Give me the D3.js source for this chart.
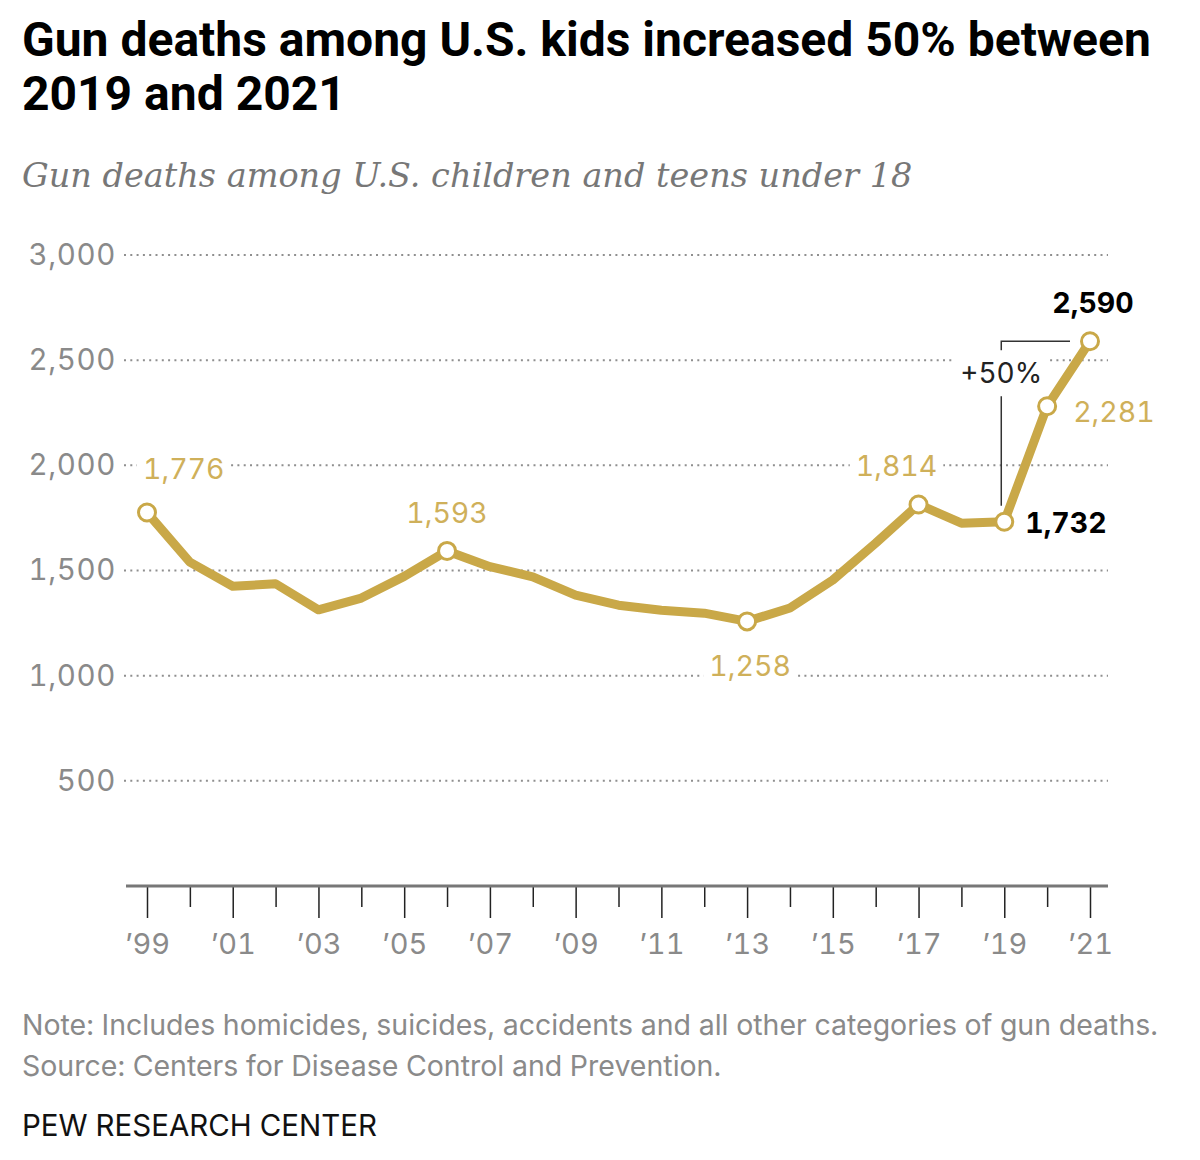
<!DOCTYPE html>
<html>
<head>
<meta charset="utf-8">
<script src="https://cdn.jsdelivr.net/npm/d3@7"></script>
<style>
  body { margin: 0; background: #fff; }
  svg { display: block; }
  text { font-family: Inter, "Liberation Sans", sans-serif; font-variant-numeric: tabular-nums; }
</style>
</head>
<body>
<div id="chart"></div>
<script>
// data
const years = d3.range(1999, 2022);
const deaths = [1776, 1540, 1425, 1437, 1313, 1369, 1472, 1593, 1518, 1470, 1383,
    1335, 1311, 1297, 1258, 1322, 1455, 1630, 1814, 1725, 1732, 2281, 2590];
const yTicks = [500, 1000, 1500, 2000, 2500, 3000];
const xTickLabels = ['’99', '’01', '’03', '’05', '’07', '’09', '’11', '’13', '’15', '’17', '’19', '’21'];
const labelledYears = [1999, 2006, 2013, 2017, 2019, 2020, 2021];
const boldYears = [2019, 2021];

const title = ['Gun deaths among U.S. kids increased 50% between', '2019 and 2021'];
const subtitle = 'Gun deaths among U.S. children and teens under 18';
const notes = ['Note: Includes homicides, suicides, accidents and all other categories of gun deaths.',
    'Source: Centers for Disease Control and Prevention.'];
const credit = 'PEW RESEARCH CENTER';

const gold = '#c9a848';
const goldText = '#cfb05a';

const dimensions = { width: 1200, height: 1160 };

const svg = d3.select('#chart')
    .append('svg')
    .attr('width', dimensions.width)
    .attr('height', dimensions.height);

// header
svg.selectAll('.title')
    .data(title)
    .enter()
    .append('text')
        .attr('class', 'title')
        .attr('x', 22)
        .attr('y', (d, i) => 56 + i * 54)
        .style('font-family', 'Roboto, sans-serif')
        .style('font-size', '48px')
        .style('font-weight', 700)
        .style('fill', '#000')
        .text(d => d);

svg.append('text')
    .attr('x', 22)
    .attr('y', 187)
    .style('font-family', '"DejaVu Serif", serif')
    .style('font-style', 'italic')
    .style('font-size', '33.5px')
    .style('fill', '#777')
    .text(subtitle);

// scales
const x = d3.scaleLinear().domain([1999, 2021]).range([147, 1090]);
const y = d3.scaleLinear().domain([0, 3000]).range([886, 255]);

const gridLayer = svg.append('g');
const bgLayer = svg.append('g');
const lineLayer = svg.append('g');
const textLayer = svg.append('g');

// y axis labels + dotted gridlines
const yAxis = d3.axisLeft(y).tickValues(yTicks).tickSize(0).tickPadding(0).tickFormat(d3.format(','));
const yAxisGroup = gridLayer.append('g')
    .attr('transform', 'translate(116, 0)')
    .call(yAxis);
yAxisGroup.select('.domain').remove();
yAxisGroup.selectAll('text')
    .style('font-family', 'Inter, sans-serif')
    .style('font-size', '29.5px')
    .style('letter-spacing', '0.6px')
    .style('fill', '#8a8a8a');

gridLayer.selectAll('.grid')
    .data(yTicks)
    .enter()
    .append('line')
        .attr('class', 'grid')
        .attr('x1', 124)
        .attr('x2', 1108)
        .attr('y1', d => y(d))
        .attr('y2', d => y(d))
        .style('stroke', '#8f8f8f')
        .style('stroke-width', 2)
        .style('stroke-dasharray', '2 4.3');

// x axis
const xAxis = d3.axisBottom(x)
    .tickValues(years)
    .tickSizeOuter(0)
    .tickSize(32)
    .tickPadding(15)
    .tickFormat(d => (d - 1999) % 2 === 0 ? xTickLabels[(d - 1999) / 2] : '');
const xAxisGroup = gridLayer.append('g')
    .attr('transform', `translate(0, ${y(0)})`)
    .call(xAxis);
xAxisGroup.select('.domain').remove();
xAxisGroup.selectAll('.tick line')
    .attr('y2', d => (d - 1999) % 2 === 0 ? 32 : 21)
    .style('stroke', '#222')
    .style('stroke-width', 1.5);
xAxisGroup.selectAll('.tick text')
    .style('font-family', 'Inter, sans-serif')
    .style('font-size', '29px')
    .style('fill', '#8a8a8a');
gridLayer.append('line')
    .attr('x1', 126)
    .attr('x2', 1108)
    .attr('y1', y(0))
    .attr('y2', y(0))
    .style('stroke', '#777')
    .style('stroke-width', 3);

// +50% bracket
const x19 = x(2019) - 3;
gridLayer.append('path')
    .attr('d', `M${x(2021) - 20},${y(2590)} H${x19} V${y(1732) - 16}`)
    .style('fill', 'none')
    .style('stroke', '#333')
    .style('stroke-width', 1.5);

// line
const line = d3.line()
    .x((d, i) => x(years[i]))
    .y(d => y(d));

lineLayer.append('path')
    .datum(deaths)
    .attr('d', line)
    .style('fill', 'none')
    .style('stroke', gold)
    .style('stroke-width', 9)
    .style('stroke-linejoin', 'round');

lineLayer.selectAll('circle')
    .data(labelledYears)
    .enter()
    .append('circle')
        .attr('cx', d => x(d))
        .attr('cy', d => y(deaths[d - 1999]))
        .attr('r', 8.5)
        .style('fill', '#fff')
        .style('stroke', gold)
        .style('stroke-width', 3);

// point labels (placement per year)
const placement = {
    1999: { dx: -4, dy: -33, anchor: 'start' },
    2006: { dx: 0, dy: -28, anchor: 'middle' },
    2013: { dx: 3, dy: 55, anchor: 'middle' },
    2017: { dx: -22, dy: -28, anchor: 'middle' },
    2019: { dx: 21, dy: 11, anchor: 'start' },
    2020: { dx: 26, dy: 16, anchor: 'start' },
    2021: { dx: 3, dy: -28, anchor: 'middle' }
};

const addBackground = (node, padX, padY) => {
    const b = node.getBBox();
    bgLayer.append('rect')
        .attr('x', b.x - padX)
        .attr('y', b.y - padY)
        .attr('width', b.width + padX * 2)
        .attr('height', b.height + padY * 2)
        .style('fill', '#fff');
};

labelledYears.forEach(year => {
    const p = placement[year];
    const bold = boldYears.includes(year);
    const t = textLayer.append('text')
        .attr('x', x(year) + p.dx)
        .attr('y', y(deaths[year - 1999]) + p.dy)
        .attr('text-anchor', p.anchor)
        .style('font-size', '28.5px')
        .style('font-weight', bold ? 700 : 400)
        .style('fill', bold ? '#000' : goldText)
        .text(d3.format(',')(deaths[year - 1999]));
    addBackground(t.node(), 6, 0);
});

const pct = textLayer.append('text')
    .attr('x', x19)
    .attr('y', y(2590) + 42)
    .attr('text-anchor', 'middle')
    .style('font-size', '28px')
    .style('fill', '#222')
    .text(`+${Math.round((deaths[22] / deaths[20] - 1) * 100)}%`);
addBackground(pct.node(), 7, 6);

// footer
svg.selectAll('.note')
    .data(notes)
    .enter()
    .append('text')
        .attr('class', 'note')
        .attr('x', 22)
        .attr('y', (d, i) => 1035 + i * 41)
        .style('font-size', '28.5px')
        .style('fill', '#8a8a8a')
        .text(d => d);

svg.append('text')
    .attr('x', 22)
    .attr('y', 1136)
    .style('font-size', '29.5px')
    .style('fill', '#111')
    .text(credit);
</script>
</body>
</html>
